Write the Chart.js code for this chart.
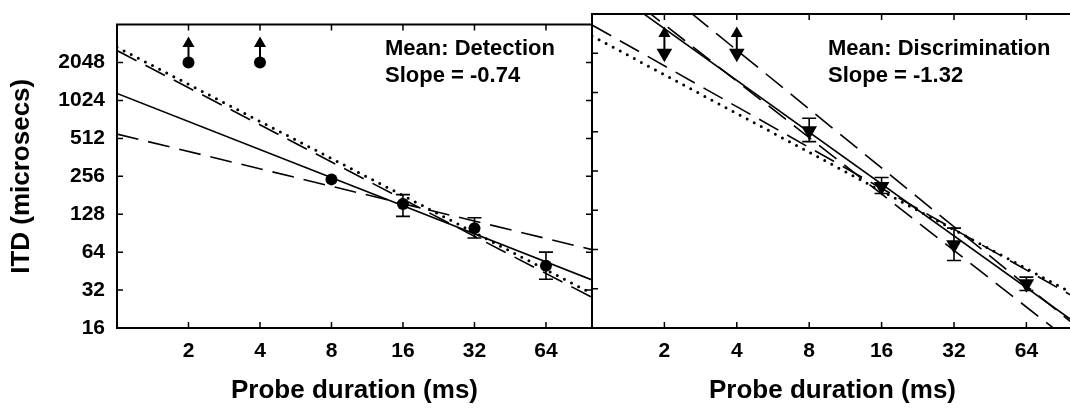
<!DOCTYPE html>
<html>
<head>
<meta charset="utf-8">
<script src="https://cdn.jsdelivr.net/npm/chart.js@4"></script>
<style>
  html, body { margin: 0; padding: 0; background: #fff; overflow: hidden; }
  #wrap { position: relative; width: 1070px; height: 410px; overflow: hidden; }
  #left { position: absolute; left: 0; top: 0; }
  #right { position: absolute; left: 582px; top: 0; }
</style>
</head>
<body>
<div id="wrap">
  <canvas id="left" width="600" height="410"></canvas>
  <canvas id="right" width="500" height="410"></canvas>
</div>
<script>
// axis ticks
const xTicks = [2, 4, 8, 16, 32, 64]
const yTicks = [16, 32, 64, 128, 256, 512, 1024, 2048]

// detection (left panel)
const detDur = [2, 4, 8, 16, 32, 64]
const detItd = [2048, 2048, 242, 154, 99, 50]
const detLow = [null, null, null, 123, 83, 39]
const detHigh = [null, null, null, 183, 120, 64]

// discrimination (right panel)
const disDur = [2, 4, 8, 16, 32, 64]
const disItd = [2048, 2048, 520, 195, 69.5, 35]
const disLow = [null, null, 430, 172, 52.7, 31]
const disHigh = [null, null, 650, 228, 93.4, 39.3]

// "more than" arrows at the short durations
const arrowDur = [2, 4]
const arrowItd = [2900, 2900]
const arrowStem = [2200, 2750]

// fitted lines: ITD at 1 ms and at 100 ms
const fitDur = [1, 100]
const detMeanFit = [1163, 38.5]
const detFitA = [554, 67]
const detFitB = [2550, 28]
const detRefFit = [2710, 30]
const disMeanFit = [7900, 18.1]
const disFitA = [17300, 17.3]
const disFitB = [3375, 28]
const disFitC = [9200, 12.2]
const disRefFit = [2780, 29.4]

const FONT = 'Liberation Sans, Arial, Helvetica, sans-serif'

function pts(xs, ys) {
    return xs.map((x, i) => ({ x: x, y: ys[i] }))
}

function fitLine(vals, kind) {
    let ds = {
        data: pts(fitDur, vals),
        showLine: true,
        pointRadius: 0,
        borderColor: '#000',
        borderWidth: 1.6,
        borderDash: [],
        borderCapStyle: 'butt'
    }
    if (kind == 'dash') ds.borderDash = [22, 10]
    if (kind == 'dot') {
        ds.borderDash = [0, 8]
        ds.borderWidth = 3
        ds.borderCapStyle = 'round'
    }
    return ds
}

// error bars and arrow stems
const errorBars = {
    id: 'errorBars',
    afterDatasetsDraw(chart) {
        const { ctx, scales: { x, y } } = chart
        ctx.save()
        ctx.strokeStyle = '#000'
        ctx.lineWidth = 1.6
        chart.data.datasets.forEach(ds => {
            if (ds.errLow) {
                ds.data.forEach((p, i) => {
                    if (ds.errLow[i] == null) return
                    const px = x.getPixelForValue(p.x)
                    const lo = y.getPixelForValue(ds.errLow[i])
                    const hi = y.getPixelForValue(ds.errHigh[i])
                    ctx.beginPath()
                    ctx.moveTo(px, lo); ctx.lineTo(px, hi)
                    ctx.moveTo(px - 7, lo); ctx.lineTo(px + 7, lo)
                    ctx.moveTo(px - 7, hi); ctx.lineTo(px + 7, hi)
                    ctx.stroke()
                })
            }
            if (ds.stem) {
                ctx.lineWidth = 2
                ds.data.forEach(p => {
                    const px = x.getPixelForValue(p.x)
                    ctx.beginPath()
                    ctx.moveTo(px, y.getPixelForValue(ds.stem[0]))
                    ctx.lineTo(px, y.getPixelForValue(ds.stem[1]))
                    ctx.stroke()
                })
            }
        })
        ctx.restore()
    }
}

// box and inward tick marks
const frame = {
    id: 'frame',
    afterDatasetsDraw(chart, args, opts) {
        const { ctx, chartArea: a, scales: { x, y } } = chart
        ctx.save()
        ctx.strokeStyle = '#000'
        ctx.lineWidth = 2
        ctx.beginPath()
        ctx.moveTo(a.left, a.top); ctx.lineTo(a.left, a.bottom)
        ctx.moveTo(a.left - 1, a.top); ctx.lineTo(a.right + 1, a.top)
        ctx.moveTo(a.left - 1, a.bottom); ctx.lineTo(a.right + 1, a.bottom)
        if (opts.rightSide) {
            ctx.moveTo(a.right, a.top); ctx.lineTo(a.right, a.bottom)
        }
        ctx.stroke()
        ctx.lineWidth = 1.5
        ctx.beginPath()
        xTicks.forEach(v => {
            const px = x.getPixelForValue(v)
            ctx.moveTo(px, a.bottom); ctx.lineTo(px, a.bottom - 6)
            ctx.moveTo(px, a.top); ctx.lineTo(px, a.top + 6)
        })
        yTicks.forEach(v => {
            const py = y.getPixelForValue(v)
            ctx.moveTo(a.left, py); ctx.lineTo(a.left + 6, py)
            if (opts.rightSide) {
                ctx.moveTo(a.right, py); ctx.lineTo(a.right - 6, py)
            }
        })
        ctx.stroke()
        ctx.restore()
    }
}

// "Mean: ..." labels
const note = {
    id: 'note',
    afterDraw(chart, args, opts) {
        const ctx = chart.ctx
        ctx.save()
        ctx.fillStyle = '#000'
        ctx.font = 'bold 22px ' + FONT
        ctx.textBaseline = 'alphabetic'
        ctx.fillText(opts.lines[0], opts.x, 55)
        ctx.fillText(opts.lines[1], opts.x, 82)
        ctx.restore()
    }
}

function makeOptions(isLeft, noteX, noteLines) {
    return {
        responsive: false,
        animation: false,
        layout: { padding: { top: 14, right: 8, left: 0, bottom: 0 } },
        plugins: {
            legend: { display: false },
            tooltip: { enabled: false },
            frame: { rightSide: isLeft },
            note: { x: noteX, lines: noteLines }
        },
        scales: {
            x: {
                type: 'logarithmic',
                min: 1,
                max: 100,
                afterBuildTicks: s => { s.ticks = xTicks.map(v => ({ value: v })) },
                afterFit: s => { s.height = 82 },
                grid: { display: false, drawTicks: false },
                border: { display: false },
                ticks: {
                    autoSkip: false, maxRotation: 0, padding: 11, color: '#000',
                    font: { family: FONT, size: 21, weight: 'bold' },
                    callback: v => String(v)
                },
                title: {
                    display: true, text: 'Probe duration (ms)', color: '#000',
                    font: { family: FONT, size: 26, weight: 'bold' },
                    padding: { top: 0, bottom: 4 }
                }
            },
            y: {
                type: 'logarithmic',
                min: 16,
                max: 4096,
                afterBuildTicks: s => { s.ticks = yTicks.map(v => ({ value: v })) },
                afterFit: s => { s.width = isLeft ? 117 : 10 },
                grid: { display: false, drawTicks: false },
                border: { display: false },
                ticks: {
                    display: isLeft, autoSkip: false, padding: 12, color: '#000',
                    font: { family: FONT, size: 21, weight: 'bold' },
                    callback: v => String(v)
                },
                title: {
                    display: isLeft, text: 'ITD (microsecs)', color: '#000',
                    font: { family: FONT, size: 26, weight: 'bold' },
                    padding: { top: 6, bottom: 0 }
                }
            }
        }
    }
}

// left: detection
new Chart(document.getElementById('left'), {
    type: 'scatter',
    data: {
        datasets: [
            fitLine(detRefFit, 'dot'),
            fitLine(detFitB, 'dash'),
            fitLine(detFitA, 'dash'),
            fitLine(detMeanFit, 'solid'),
            {
                data: pts(detDur, detItd), errLow: detLow, errHigh: detHigh,
                pointStyle: 'circle', pointRadius: 6,
                backgroundColor: '#000', borderColor: '#000', borderWidth: 0
            },
            {
                data: pts(arrowDur, arrowItd), stem: arrowStem,
                pointStyle: 'triangle', pointRadius: 7,
                backgroundColor: '#000', borderColor: '#000', borderWidth: 0
            }
        ]
    },
    options: makeOptions(true, 385, ['Mean: Detection', 'Slope = -0.74']),
    plugins: [errorBars, frame, note]
})

// right: discrimination
new Chart(document.getElementById('right'), {
    type: 'scatter',
    data: {
        datasets: [
            fitLine(disRefFit, 'dot'),
            fitLine(disFitB, 'dash'),
            fitLine(disFitA, 'dash'),
            fitLine(disFitC, 'dash'),
            fitLine(disMeanFit, 'solid'),
            {
                data: pts(disDur, disItd), errLow: disLow, errHigh: disHigh,
                pointStyle: 'triangle', rotation: 180, pointRadius: 9,
                backgroundColor: '#000', borderColor: '#000', borderWidth: 0
            },
            {
                data: pts(arrowDur, arrowItd), stem: arrowStem,
                pointStyle: 'triangle', pointRadius: 7,
                backgroundColor: '#000', borderColor: '#000', borderWidth: 0
            }
        ]
    },
    options: makeOptions(false, 246, ['Mean: Discrimination', 'Slope = -1.32']),
    plugins: [errorBars, frame, note]
})
</script>
</body>
</html>
